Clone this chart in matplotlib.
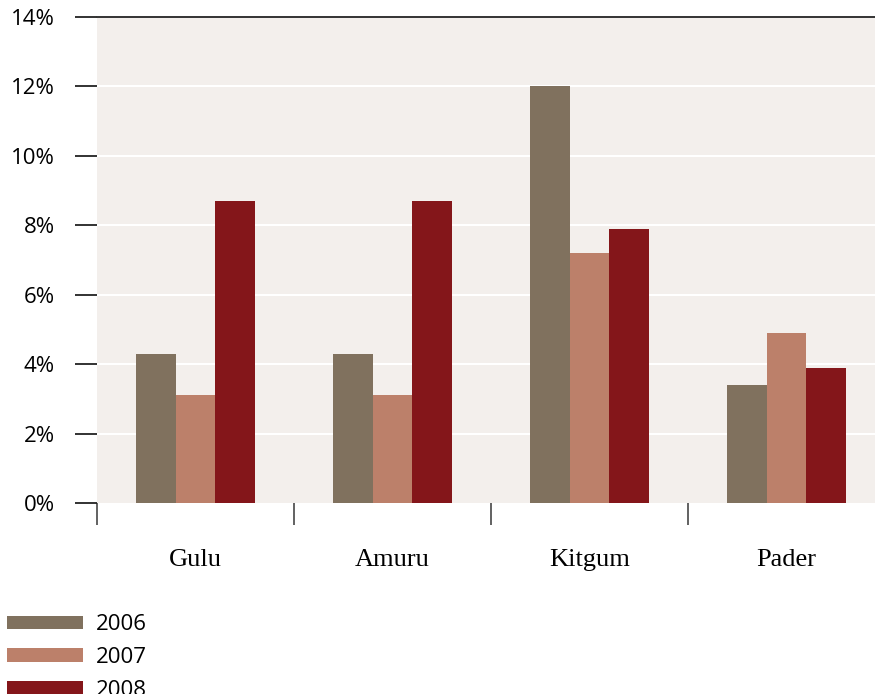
import numpy as np
import matplotlib
matplotlib.use("Agg")
import matplotlib.pyplot as plt
from matplotlib.ticker import FixedLocator, NullFormatter

# data (percent)
districts = ["Gulu", "Amuru", "Kitgum", "Pader"]
years = ["2006", "2007", "2008"]
v2006 = [4.3, 4.3, 12.0, 3.4]
v2007 = [3.1, 3.1, 7.2, 4.9]
v2008 = [8.7, 8.7, 7.9, 3.9]
yticks = [0, 2, 4, 6, 8, 10, 12, 14]

colors = ["#80715e", "#bc806a", "#84161a"]

fig = plt.figure(figsize=(8.75, 6.94), dpi=100)
ax = fig.add_axes([97 / 875, 191 / 694, 778 / 875, 486 / 694])
ax.set_facecolor("#f3efec")

x = np.arange(len(districts))
w = 0.2
for i, (vals, lab) in enumerate(zip([v2006, v2007, v2008], years)):
    ax.bar(x + (i - 1) * w, vals, width=w, color=colors[i], label=lab, zorder=3)

# categories are 197px wide, last one runs past the figure edge
ax.set_xlim(-0.5, -0.5 + 778 / 197)
ax.set_ylim(0, 14)

# white grid
for yv in yticks[1:-1]:
    ax.axhline(yv, color="white", lw=1.5, zorder=1)

ax.set_yticks(yticks)
ax.set_yticklabels([f"{v}%" for v in yticks], family="Open Sans", fontsize=16, ha="right")
ax.tick_params(axis="y", length=15.8, width=1.3, color="#222", pad=14.4)
ax.yaxis.get_major_ticks()[0].tick1line.set_color("#555")

ax.set_xticks(x)
ax.set_xticklabels(districts, family="Liberation Serif", fontsize=19)
ax.tick_params(axis="x", which="major", length=0, pad=33)
ax.xaxis.set_minor_locator(FixedLocator([-0.5, 0.5, 1.5, 2.5]))
ax.xaxis.set_minor_formatter(NullFormatter())
ax.tick_params(axis="x", which="minor", length=15.8, width=1.3, color="#555")

for s in ["left", "right", "bottom"]:
    ax.spines[s].set_visible(False)
ax.spines["top"].set_color("#333")
ax.spines["top"].set_linewidth(1.4)

leg = fig.legend(loc="upper left", bbox_to_anchor=(7 / 875, 0.115), frameon=False,
                 prop={"family": "Open Sans", "size": 16},
                 handlelength=3.4, handleheight=0.55, handletextpad=0.62,
                 labelspacing=0.53, borderpad=0, borderaxespad=0)

fig.savefig("out.png", dpi=100)
